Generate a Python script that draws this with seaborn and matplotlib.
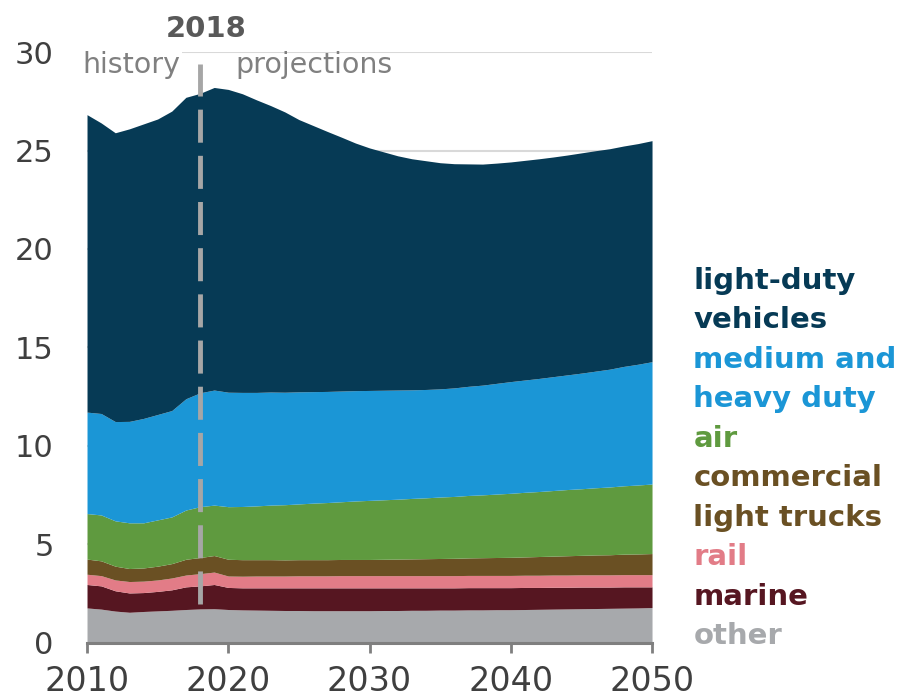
import numpy as np
import matplotlib
matplotlib.use("Agg")
import matplotlib.pyplot as plt
import seaborn as sns

# years 2010-2050, one value per year (quadrillion Btu)
years = list(range(2010, 2051))

other = [1.78, 1.72, 1.62, 1.56, 1.60, 1.63, 1.66, 1.70, 1.73, 1.74, 1.70,
         1.68, 1.67, 1.66, 1.65, 1.65, 1.64, 1.64, 1.64, 1.64, 1.64,
         1.65, 1.65, 1.66, 1.66, 1.67, 1.67, 1.68, 1.68, 1.69, 1.69,
         1.70, 1.71, 1.72, 1.73, 1.74, 1.75, 1.76, 1.77, 1.78, 1.80]
marine = [1.19, 1.18, 1.03, 0.98, 0.96, 0.99, 1.04, 1.15, 1.17, 1.23, 1.12,
          1.12, 1.13, 1.14, 1.15, 1.15, 1.16, 1.16, 1.16, 1.16, 1.16,
          1.15, 1.15, 1.14, 1.14, 1.13, 1.13, 1.13, 1.13, 1.12, 1.12,
          1.12, 1.11, 1.11, 1.10, 1.10, 1.09, 1.08, 1.08, 1.07, 1.05]
rail = [0.52, 0.52, 0.55, 0.58, 0.58, 0.58, 0.60, 0.60, 0.62, 0.63, 0.58,
        0.59, 0.60, 0.60, 0.60, 0.61, 0.61, 0.61, 0.62, 0.62, 0.62,
        0.62, 0.62, 0.62, 0.62, 0.62, 0.62, 0.62, 0.62, 0.62, 0.62,
        0.62, 0.62, 0.62, 0.62, 0.62, 0.62, 0.62, 0.62, 0.62, 0.62]
comm_trucks = [0.77, 0.75, 0.70, 0.66, 0.67, 0.70, 0.73, 0.80, 0.82, 0.84, 0.85,
               0.84, 0.83, 0.83, 0.82, 0.82, 0.82, 0.82, 0.82, 0.82, 0.82,
               0.83, 0.84, 0.85, 0.86, 0.87, 0.88, 0.89, 0.90, 0.91, 0.92,
               0.93, 0.95, 0.96, 0.98, 0.99, 1.01, 1.02, 1.04, 1.05, 1.07]
air = [2.31, 2.33, 2.30, 2.32, 2.29, 2.35, 2.37, 2.50, 2.58, 2.56, 2.67,
       2.70, 2.73, 2.77, 2.80, 2.83, 2.87, 2.90, 2.93, 2.97, 3.00,
       3.02, 3.04, 3.07, 3.09, 3.12, 3.14, 3.17, 3.19, 3.22, 3.25,
       3.28, 3.30, 3.33, 3.36, 3.38, 3.41, 3.44, 3.47, 3.50, 3.53]
med_heavy = [5.15, 5.15, 5.04, 5.15, 5.30, 5.35, 5.40, 5.65, 5.78, 5.84, 5.81,
             5.79, 5.76, 5.74, 5.71, 5.69, 5.66, 5.64, 5.62, 5.60, 5.58,
             5.56, 5.54, 5.51, 5.50, 5.49, 5.51, 5.54, 5.57, 5.62, 5.67,
             5.70, 5.74, 5.78, 5.82, 5.87, 5.92, 5.98, 6.06, 6.13, 6.21]
light_duty = [15.10, 14.75, 14.66, 14.85, 14.95, 15.00, 15.20, 15.30, 15.20, 15.36, 15.37,
              15.16, 14.85, 14.54, 14.23, 13.82, 13.51, 13.20, 12.89, 12.57, 12.31,
              12.10, 11.89, 11.73, 11.61, 11.48, 11.38, 11.29, 11.22, 11.18, 11.15,
              11.15, 11.15, 11.15, 11.16, 11.18, 11.19, 11.19, 11.19, 11.20, 11.22]

series = [other, marine, rail, comm_trucks, air, med_heavy, light_duty]
colors = ["#a7a9ac", "#561621", "#e27c87", "#6a5023", "#5f9a3f", "#1b96d6", "#063a55"]

# legend text, top to bottom, one entry per line
label_lines = ["light-duty", "vehicles", "medium and", "heavy duty", "air",
               "commercial", "light trucks", "rail", "marine", "other"]
label_colors = ["#063a55", "#063a55", "#1b96d6", "#1b96d6", "#5f9a3f",
                "#6a5023", "#6a5023", "#e27c87", "#561621", "#a7a9ac"]

sns.set_theme(style="white")
plt.rcParams['font.family'] = ['DejaVu Sans']

fig = plt.figure(figsize=(9.15, 6.98), dpi=100)
ax = fig.add_axes([0.0951, 0.0788, 0.6175, 0.8467])

ax.stackplot(years, *series, colors=colors, linewidth=0, zorder=2)

ax.set_xlim(2010, 2050)
ax.set_ylim(0, 30)
ax.set_xticks([2010, 2020, 2030, 2040, 2050])
ax.set_yticks([0, 5, 10, 15, 20, 25, 30])
ax.yaxis.grid(True, color="#d9d9d9", linewidth=1.5, zorder=0)
ax.set_axisbelow(True)

sns.despine(ax=ax, left=True, top=True, right=True)
ax.spines['bottom'].set_color("#7f7f7f")
ax.spines['bottom'].set_linewidth(2.2)
ax.spines['bottom'].set_zorder(3)
ax.tick_params(axis='x', direction='out', length=7, width=2, color="#7f7f7f",
               labelsize=24, labelcolor="#3f3f3f", pad=9, bottom=True)
ax.tick_params(axis='y', length=0, labelsize=22, labelcolor="#3f3f3f", pad=24)

# 2018 divider
ax.vlines(2018, 2.0, 29.4, colors="#a6a6a6", linewidth=3.5,
          linestyles=(0, (6.8, 2.7)), zorder=4)
ax.text(2018.4, 30.76, "2018", ha='center', va='baseline', fontsize=21,
        fontweight='bold', color="#595959")
ax.text(2016.6, 28.93, "history", ha='right', va='baseline', fontsize=20.5,
        color="#808080", zorder=5,
        bbox=dict(facecolor='white', edgecolor='none', pad=1))
ax.text(2020.5, 28.93, "projections", ha='left', va='baseline', fontsize=20.5,
        color="#808080")

# right side labels
y0 = 17.97
for i, (txt, c) in enumerate(zip(label_lines, label_colors)):
    ax.text(1.073, y0 - 2.005 * i, txt, transform=ax.get_yaxis_transform(),
            ha='left', va='baseline', fontsize=21, fontweight='bold', color=c)

plt.savefig("out.png", dpi=100)
